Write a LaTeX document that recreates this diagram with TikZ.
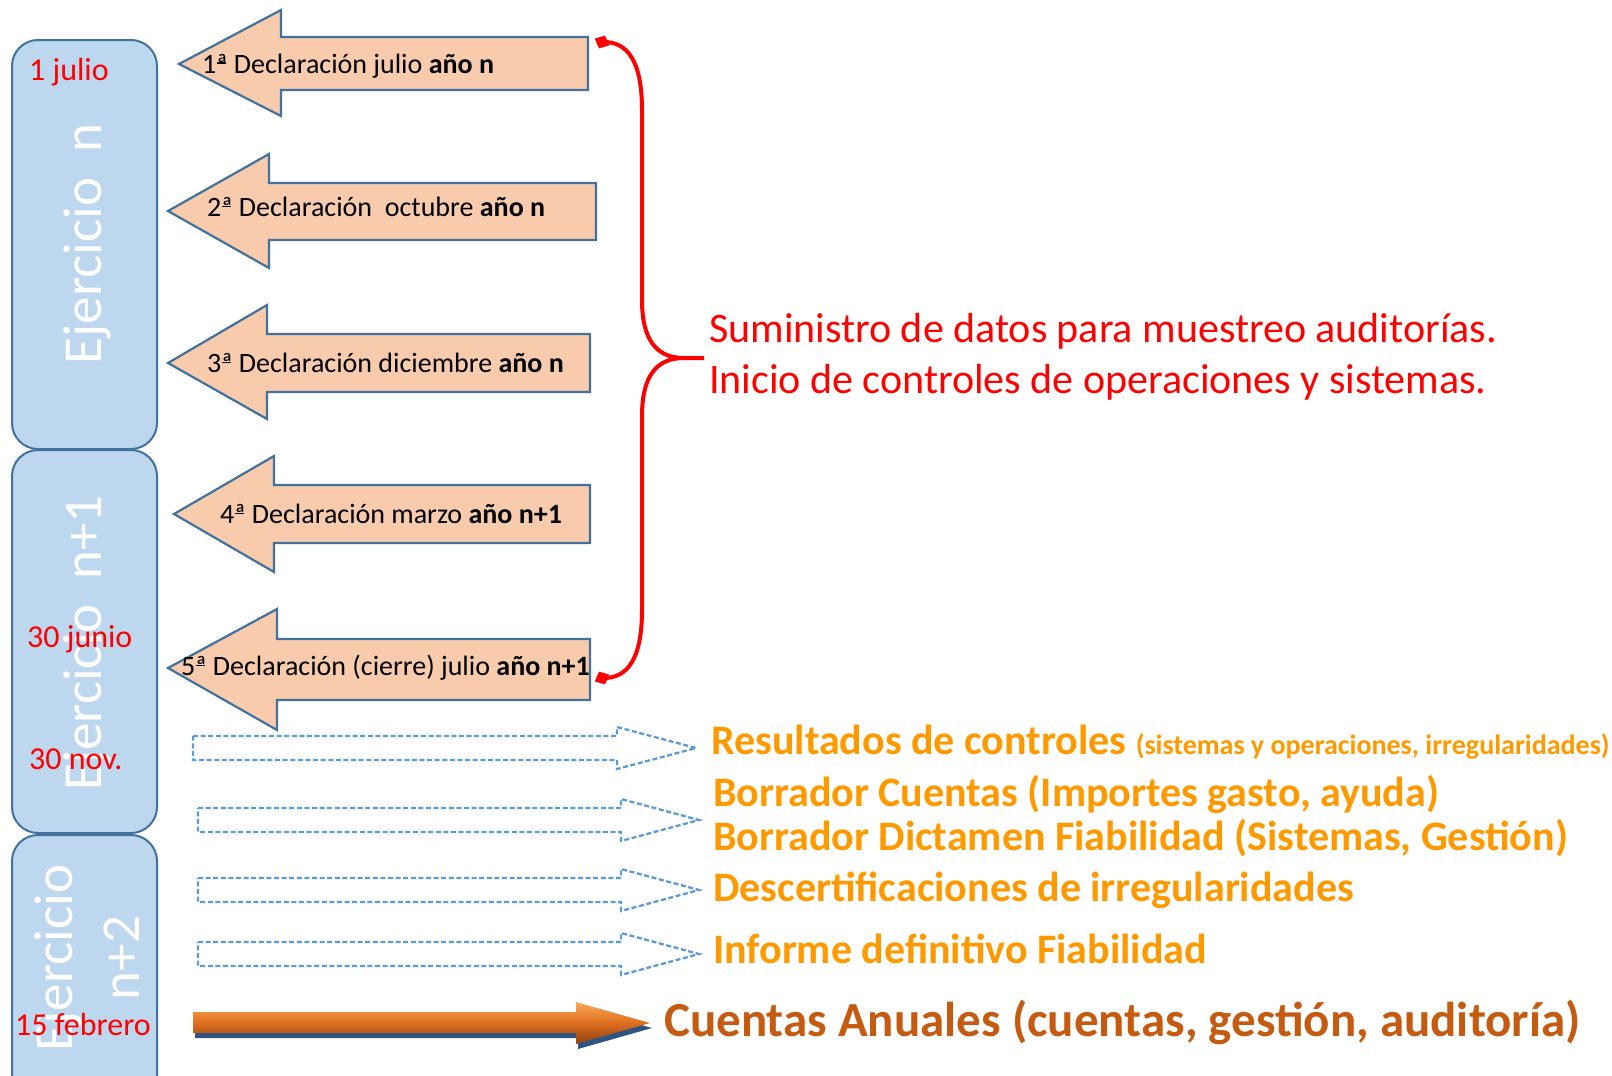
\documentclass[tikz,border=0pt]{standalone}
\usepackage{fontspec}
\setmainfont{Carlito}
\usetikzlibrary{arrows.meta}
\definecolor{boxfill}{RGB}{189,215,238}
\definecolor{boxline}{RGB}{65,113,156}
\definecolor{salmon}{RGB}{248,203,173}
\definecolor{dashblue}{RGB}{91,155,213}
\definecolor{orangetxt}{RGB}{255,153,0}
\definecolor{darkorange}{RGB}{197,90,17}
\definecolor{arrtop}{RGB}{248,170,90}
\definecolor{arrmid}{RGB}{222,110,30}
\definecolor{arrbot}{RGB}{140,65,20}
\definecolor{arrshadow}{RGB}{46,84,130}
\tikzset{
 yearbox/.style={draw=boxline, fill=boxfill, line width=2pt, rounded corners=26pt},
 declarrow/.style={draw=boxline, fill=salmon, line width=2.2pt, line join=miter},
 dasharrow/.style={draw=dashblue, line width=2.3pt, dash pattern=on 5pt off 2.6pt},
 datelbl/.style={text=red, font=\fontsize{32}{38}\selectfont, anchor=west, inner sep=0pt},
 yeartxt/.style={text=white, font=\fontsize{55}{67}\selectfont, rotate=90, align=center, inner sep=0pt},
 decltxt/.style={font=\fontsize{28}{34}\selectfont, anchor=west, inner sep=0pt},
 outtxt/.style={text=orangetxt, font=\bfseries\fontsize{42}{44}\selectfont, anchor=west, inner sep=0pt, align=left},
 bracered/.style={draw=red, line width=4pt},
}
\newcommand\ordA{\makebox[0pt][l]{\hspace{0.03em}\rule[0.34em]{0.3em}{0.055em}}ª}
\newcommand\declshape[8]{\draw[declarrow] (#1,#2) -- (#3,#4) -- (#3,#6) -- (#8,#6) -- (#8,#7) -- (#3,#7) -- (#3,#5) -- cycle;}
\newcommand\outshape[8]{\draw[dasharrow] (#1,#6) -- (#3,#6) -- (#3,#4) -- (#8,#2) -- (#3,#5) -- (#3,#7) -- (#1,#7) -- cycle;}
\begin{document}
\begin{tikzpicture}[x=1pt,y=-1pt]
\useasboundingbox (0,0) rectangle (1612,1076);
\clip (0,0) rectangle (1612,1076);
% year boxes
\draw[yearbox] (12,40) rectangle (157,449);
\draw[yearbox] (12,450) rectangle (157,833);
\draw[yearbox] (12,835) rectangle (157,1120);
\node[yeartxt] (y1) at (87,244) {Ejercicio~~n};
\node[yeartxt] (y2) at (87,643) {Ejercicio~~n+1};
\node[yeartxt] (y3) at (87,958) {Ejercicio\\n+2};
\node[datelbl] (d1) at (29,72) {1 julio};
\node[datelbl] (d2) at (27,639) {30 junio};
\node[datelbl] (d3) at (29,759) {30 nov.};
\node[datelbl] (d4) at (15,1024) {15 febrero};
% declaration arrows
\declshape{179}{64}{281}{10}{116}{37}{90}{588}
\declshape{168}{211}{269}{154}{268}{183}{240}{596}
\declshape{168}{363}{267}{305}{419}{334}{392}{590}
\declshape{174}{514}{274}{456}{572}{485}{543}{590}
\declshape{168}{668}{277}{609}{730}{639}{700}{590}
\node[decltxt] (t1) at (202,66) {1\ordA{} Declaración julio \textbf{año n}};
\node[decltxt] (t2) at (207,207) {2\ordA{} Declaración~ octubre \textbf{año n}};
\node[decltxt] (t3) at (207,363) {3\ordA{} Declaración diciembre \textbf{año n}};
\node[decltxt] (t4) at (220,514) {4\ordA{} Declaración marzo \textbf{año n+1}};
\node[decltxt] (t5) at (181,668) {5\ordA{} Declaración (cierre) julio \textbf{año n+1}};
% brace
\coordinate (b1) at (602,42);
\coordinate (b5) at (602,678);
\coordinate (bj) at (684,358);
\coordinate (btip) at (704,358);
\draw[bracered] (b1) .. controls (628,41) and (642,62) .. (642,110) -- (642,300) .. controls (642,338) and (655,358) .. (bj) -- (btip);
\draw[bracered] (b5) .. controls (628,679) and (642,658) .. (642,610) -- (642,416) .. controls (642,378) and (655,358) .. (bj);
\fill[red, rotate around={-25:(b1)}] (b1) ++(-8,0) -- ++(8,-7) -- ++(8,7) -- ++(-8,7) -- cycle;
\fill[red, rotate around={25:(b5)}] (b5) ++(-8,0) -- ++(8,-7) -- ++(8,7) -- ++(-8,7) -- cycle;
\node[anchor=west, text=red, font=\fontsize{42}{51}\selectfont, align=left, inner sep=0pt] (sum) at (709,357) {Suministro de datos para muestreo auditorías.\\Inicio de controles de operaciones y sistemas.};
% dashed output arrows
\outshape{193}{748}{617}{727}{769}{736}{760}{696}
\outshape{198}{820}{621}{799}{841}{808}{832}{699}
\outshape{198}{890}{621}{869}{911}{878}{902}{699}
\outshape{198}{954}{621}{933}{975}{942}{966}{699}
\node[outtxt] (o1) at (711,742) {Resultados de controles {\fontsize{28}{30}\selectfont(sistemas y operaciones, irregularidades)}};
\node[outtxt] (o2) at (713,816) {Borrador Cuentas (Importes gasto, ayuda)\\Borrador Dictamen Fiabilidad (Sistemas, Gestión)};
\node[outtxt] (o3) at (713,890) {Descertificaciones de irregularidades};
\node[outtxt] (o4) at (713,949) {Informe definitivo Fiabilidad};
% big arrow
\fill[arrshadow] (195,1017) -- (578,1017) -- (578,1007) -- (652,1028) -- (578,1049) -- (578,1038) -- (195,1038) -- cycle;
\shade[top color=arrtop, bottom color=arrbot, middle color=arrmid] (193,1012) -- (576,1012) -- (576,1002) -- (650,1023) -- (576,1044) -- (576,1033) -- (193,1033) -- cycle;
\node[anchor=west, inner sep=0pt, text=darkorange, font=\bfseries\fontsize{49}{54}\selectfont] (o5) at (664,1022) {Cuentas Anuales (cuentas, gestión, auditoría)};
\end{tikzpicture}
\end{document}
